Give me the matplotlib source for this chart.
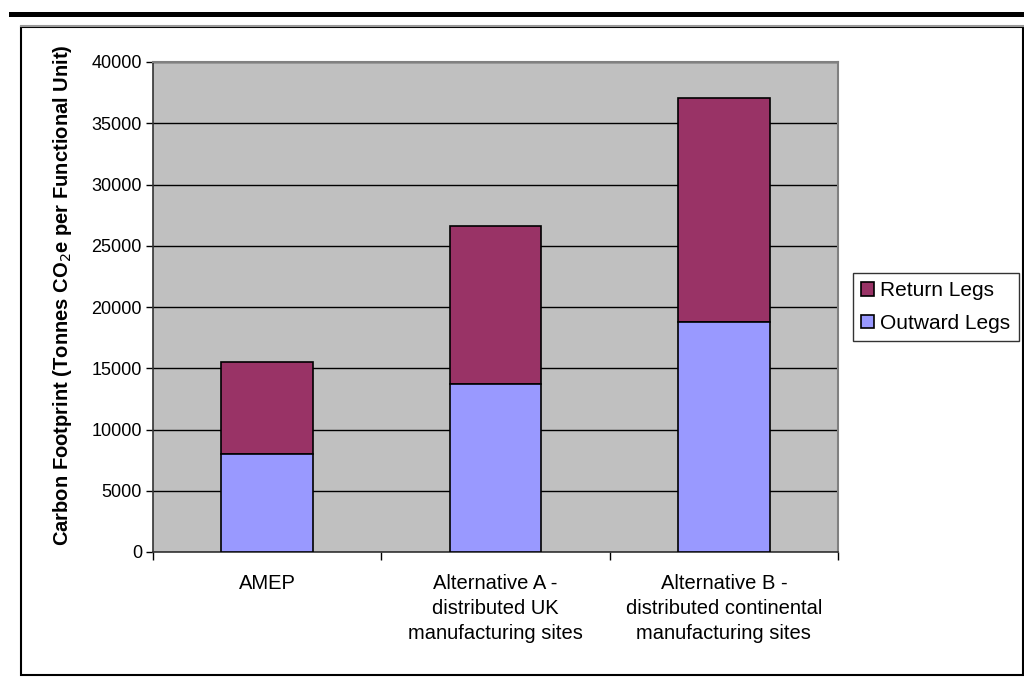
import matplotlib
matplotlib.use("Agg")
import matplotlib.pyplot as plt
from matplotlib.patches import Rectangle
from matplotlib.lines import Line2D
import numpy as np

plt.rcParams['font.family'] = ['Liberation Sans', 'DejaVu Sans']

categories = ["AMEP",
              "Alternative A -\ndistributed UK\nmanufacturing sites",
              "Alternative B -\ndistributed continental\nmanufacturing sites"]
outward = [8000, 13700, 18800]
ret = [7550, 12900, 18300]
yticks = [0, 5000, 10000, 15000, 20000, 25000, 30000, 35000, 40000]

W, H = 1024, 686
fig = plt.figure(figsize=(W / 100, H / 100), dpi=100)

def fx(px):
    return px / W

def fy(py):
    return 1 - py / H

# page decorations: heavy rule, thin grey rule and the chart frame
fig.add_artist(Rectangle((fx(9), fy(17)), fx(1024 - 9), 5 / H,
                         transform=fig.transFigure, color="black", lw=0))
fig.add_artist(Line2D([fx(21), fx(1024)], [fy(25.5), fy(25.5)],
                      transform=fig.transFigure, color="#999999", lw=1.5))
fig.add_artist(Rectangle((fx(21), fy(675)), fx(1023 - 21), (675 - 27) / H,
                         transform=fig.transFigure, fill=False,
                         edgecolor="black", lw=1.5))

ax = fig.add_axes([fx(153), fy(552), fx(838 - 153), (552 - 62) / H])
ax.set_facecolor("#C0C0C0")

x = np.arange(len(categories))
bw = 0.4
ax.bar(x, ret, bw, bottom=outward, color="#993366", edgecolor="black",
       lw=1.2, label="Return Legs", zorder=3)
ax.bar(x, outward, bw, color="#9999FF", edgecolor="black",
       lw=1.2, label="Outward Legs", zorder=3)

ax.set_xlim(-0.5, len(categories) - 0.5)
ax.set_ylim(0, 40000)
ax.set_yticks(yticks)
ax.set_yticklabels([str(v) for v in yticks], fontsize=13)
ax.yaxis.grid(True, color="black", lw=1, zorder=1)
ax.set_axisbelow(True)

ax.set_xticks(x)
ax.set_xticklabels(categories, fontsize=14.5, linespacing=1.38)
ax.tick_params(axis="x", length=0, pad=16)
ax.set_xticks(np.arange(-0.5, len(categories)), minor=True)
ax.tick_params(axis="x", which="minor", length=6, color="black", width=1)
ax.tick_params(axis="y", length=5, color="black", width=1, pad=3)

for side in ["top", "right"]:
    ax.spines[side].set_color("#808080")
    ax.spines[side].set_linewidth(1.5)
for side in ["left", "bottom"]:
    ax.spines[side].set_color("#333333")
    ax.spines[side].set_linewidth(1.2)

ax.set_ylabel("Carbon Footprint (Tonnes CO$_2$e per Functional Unit)",
              fontsize=14.5, fontweight="bold")
ax.yaxis.set_label_coords(-0.116, 0.524)

h, l = ax.get_legend_handles_labels()
leg = fig.legend(h, l, loc="upper left",
                 bbox_to_anchor=(fx(853), fy(273)), fontsize=15,
                 frameon=True, fancybox=False, edgecolor="black",
                 handlelength=0.6, handleheight=0.6, handletextpad=0.3,
                 borderpad=0.4, labelspacing=0.65, borderaxespad=0)
leg.get_frame().set_linewidth(1)

fig.savefig("out.png", dpi=100)
